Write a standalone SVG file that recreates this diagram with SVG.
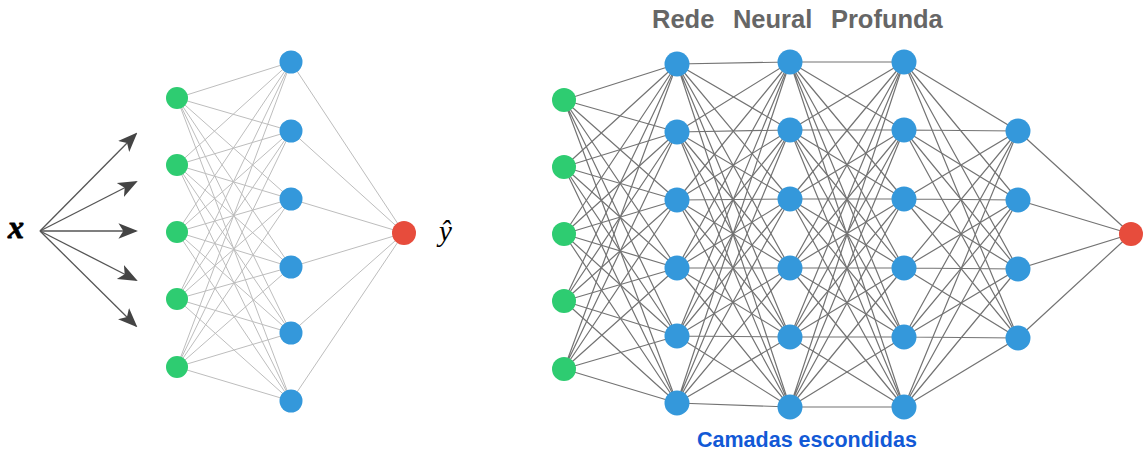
<svg xmlns="http://www.w3.org/2000/svg" width="1147" height="455" viewBox="0 0 1147 455">
  <style>
    .in { fill: #2ecc71; }
    .hid { fill: #3498db; }
    .out { fill: #e74c3c; }
    .edge-s { stroke: #bdbdbd; stroke-width: 1; fill: none; }
    .edge-d { stroke: #737373; stroke-width: 1.2; fill: none; }
    .arrow { stroke: #555; stroke-width: 1.3; fill: none; }
    .title { font-family: "Liberation Sans", Arial, sans-serif; font-weight: bold; font-size: 25.5px; fill: #666; }
    .caption { font-family: "Liberation Sans", Arial, sans-serif; font-weight: bold; font-size: 21.5px; fill: #1259d6; }
    .math { font-family: "Liberation Serif", "DejaVu Serif", serif; font-style: italic; fill: #000; }
  </style>
  <defs>
    <marker id="head" viewBox="0 0 10 10" refX="9" refY="5" markerWidth="15" markerHeight="15" markerUnits="strokeWidth" orient="auto">
      <path d="M0,1 L10,5 L0,9 L2.5,5 z" fill="#444"/>
    </marker>
  </defs>

  <!-- shallow network: connectors -->
  <g id="shallow-edges">
    <path class="arrow" marker-end="url(#head)" d="M40,231 L136,134"/>
    <path class="arrow" marker-end="url(#head)" d="M40,231 L136,182"/>
    <path class="arrow" marker-end="url(#head)" d="M40,231 L136,231"/>
    <path class="arrow" marker-end="url(#head)" d="M40,231 L136,280"/>
    <path class="arrow" marker-end="url(#head)" d="M40,231 L136,326"/>
    <path class="edge-s" d="M177,98 L291,62 M177,98 L291,131 M177,98 L291,199 M177,98 L291,267 M177,98 L291,333 M177,98 L291,401"/>
    <path class="edge-s" d="M177,165 L291,62 M177,165 L291,131 M177,165 L291,199 M177,165 L291,267 M177,165 L291,333 M177,165 L291,401"/>
    <path class="edge-s" d="M177,232 L291,62 M177,232 L291,131 M177,232 L291,199 M177,232 L291,267 M177,232 L291,333 M177,232 L291,401"/>
    <path class="edge-s" d="M177,299 L291,62 M177,299 L291,131 M177,299 L291,199 M177,299 L291,267 M177,299 L291,333 M177,299 L291,401"/>
    <path class="edge-s" d="M177,367 L291,62 M177,367 L291,131 M177,367 L291,199 M177,367 L291,267 M177,367 L291,333 M177,367 L291,401"/>
    <path class="edge-s" d="M291,62 L404,233 M291,131 L404,233 M291,199 L404,233 M291,267 L404,233 M291,333 L404,233 M291,401 L404,233"/>
  </g>

  <!-- shallow network: nodes -->
  <g id="shallow-input">
    <circle class="in" cx="177" cy="98" r="11"/>
    <circle class="in" cx="177" cy="165" r="11"/>
    <circle class="in" cx="177" cy="232" r="11"/>
    <circle class="in" cx="177" cy="299" r="11"/>
    <circle class="in" cx="177" cy="367" r="11"/>
  </g>
  <g id="shallow-hidden">
    <circle class="hid" cx="291" cy="62" r="11.5"/>
    <circle class="hid" cx="291" cy="131" r="11.5"/>
    <circle class="hid" cx="291" cy="199" r="11.5"/>
    <circle class="hid" cx="291" cy="267" r="11.5"/>
    <circle class="hid" cx="291" cy="333" r="11.5"/>
    <circle class="hid" cx="291" cy="401" r="11.5"/>
  </g>
  <g id="shallow-output">
    <circle class="out" cx="404" cy="233" r="12"/>
  </g>
  <g id="label-x">
    <text class="math" x="8" y="238" font-size="32" font-weight="bold" stroke="#000" stroke-width="0.8">x</text>
  </g>
  <g id="label-yhat">
    <text class="math" x="439" y="241" font-size="29">ŷ</text>
  </g>

  <!-- deep network: connectors -->
  <g id="deep-edges">
    <path class="edge-d" d="M564,100 L677,64 M564,100 L677,132 M564,100 L677,200 M564,100 L677,268 M564,100 L677,336 M564,100 L677,403"/>
    <path class="edge-d" d="M564,167 L677,64 M564,167 L677,132 M564,167 L677,200 M564,167 L677,268 M564,167 L677,336 M564,167 L677,403"/>
    <path class="edge-d" d="M564,234 L677,64 M564,234 L677,132 M564,234 L677,200 M564,234 L677,268 M564,234 L677,336 M564,234 L677,403"/>
    <path class="edge-d" d="M564,301 L677,64 M564,301 L677,132 M564,301 L677,200 M564,301 L677,268 M564,301 L677,336 M564,301 L677,403"/>
    <path class="edge-d" d="M564,369 L677,64 M564,369 L677,132 M564,369 L677,200 M564,369 L677,268 M564,369 L677,336 M564,369 L677,403"/>

    <path class="edge-d" d="M677,64 L790,62 M677,64 L790,130 M677,64 L790,199 M677,64 L790,268 M677,64 L790,337 M677,64 L790,407"/>
    <path class="edge-d" d="M677,132 L790,62 M677,132 L790,130 M677,132 L790,199 M677,132 L790,268 M677,132 L790,337 M677,132 L790,407"/>
    <path class="edge-d" d="M677,200 L790,62 M677,200 L790,130 M677,200 L790,199 M677,200 L790,268 M677,200 L790,337 M677,200 L790,407"/>
    <path class="edge-d" d="M677,268 L790,62 M677,268 L790,130 M677,268 L790,199 M677,268 L790,268 M677,268 L790,337 M677,268 L790,407"/>
    <path class="edge-d" d="M677,336 L790,62 M677,336 L790,130 M677,336 L790,199 M677,336 L790,268 M677,336 L790,337 M677,336 L790,407"/>
    <path class="edge-d" d="M677,403 L790,62 M677,403 L790,130 M677,403 L790,199 M677,403 L790,268 M677,403 L790,337 M677,403 L790,407"/>

    <path class="edge-d" d="M790,62 L904,62 M790,62 L904,130 M790,62 L904,199 M790,62 L904,268 M790,62 L904,337 M790,62 L904,407"/>
    <path class="edge-d" d="M790,130 L904,62 M790,130 L904,130 M790,130 L904,199 M790,130 L904,268 M790,130 L904,337 M790,130 L904,407"/>
    <path class="edge-d" d="M790,199 L904,62 M790,199 L904,130 M790,199 L904,199 M790,199 L904,268 M790,199 L904,337 M790,199 L904,407"/>
    <path class="edge-d" d="M790,268 L904,62 M790,268 L904,130 M790,268 L904,199 M790,268 L904,268 M790,268 L904,337 M790,268 L904,407"/>
    <path class="edge-d" d="M790,337 L904,62 M790,337 L904,130 M790,337 L904,199 M790,337 L904,268 M790,337 L904,337 M790,337 L904,407"/>
    <path class="edge-d" d="M790,407 L904,62 M790,407 L904,130 M790,407 L904,199 M790,407 L904,268 M790,407 L904,337 M790,407 L904,407"/>

    <path class="edge-d" d="M904,62 L1018,131 M904,62 L1018,200 M904,62 L1018,269 M904,62 L1018,338"/>
    <path class="edge-d" d="M904,130 L1018,131 M904,130 L1018,200 M904,130 L1018,269 M904,130 L1018,338"/>
    <path class="edge-d" d="M904,199 L1018,131 M904,199 L1018,200 M904,199 L1018,269 M904,199 L1018,338"/>
    <path class="edge-d" d="M904,268 L1018,131 M904,268 L1018,200 M904,268 L1018,269 M904,268 L1018,338"/>
    <path class="edge-d" d="M904,337 L1018,131 M904,337 L1018,200 M904,337 L1018,269 M904,337 L1018,338"/>
    <path class="edge-d" d="M904,407 L1018,131 M904,407 L1018,200 M904,407 L1018,269 M904,407 L1018,338"/>

    <path class="edge-d" d="M1018,131 L1131,234 M1018,200 L1131,234 M1018,269 L1131,234 M1018,338 L1131,234"/>
  </g>

  <!-- deep network: nodes -->
  <g id="deep-input">
    <circle class="in" cx="564" cy="100" r="12"/>
    <circle class="in" cx="564" cy="167" r="12"/>
    <circle class="in" cx="564" cy="234" r="12"/>
    <circle class="in" cx="564" cy="301" r="12"/>
    <circle class="in" cx="564" cy="369" r="12"/>
  </g>
  <g id="deep-hidden-1">
    <circle class="hid" cx="677" cy="64" r="12.5"/>
    <circle class="hid" cx="677" cy="132" r="12.5"/>
    <circle class="hid" cx="677" cy="200" r="12.5"/>
    <circle class="hid" cx="677" cy="268" r="12.5"/>
    <circle class="hid" cx="677" cy="336" r="12.5"/>
    <circle class="hid" cx="677" cy="403" r="12.5"/>
  </g>
  <g id="deep-hidden-2">
    <circle class="hid" cx="790" cy="62" r="12.5"/>
    <circle class="hid" cx="790" cy="130" r="12.5"/>
    <circle class="hid" cx="790" cy="199" r="12.5"/>
    <circle class="hid" cx="790" cy="268" r="12.5"/>
    <circle class="hid" cx="790" cy="337" r="12.5"/>
    <circle class="hid" cx="790" cy="407" r="12.5"/>
  </g>
  <g id="deep-hidden-3">
    <circle class="hid" cx="904" cy="62" r="12.5"/>
    <circle class="hid" cx="904" cy="130" r="12.5"/>
    <circle class="hid" cx="904" cy="199" r="12.5"/>
    <circle class="hid" cx="904" cy="268" r="12.5"/>
    <circle class="hid" cx="904" cy="337" r="12.5"/>
    <circle class="hid" cx="904" cy="407" r="12.5"/>
  </g>
  <g id="deep-hidden-4">
    <circle class="hid" cx="1018" cy="131" r="12.5"/>
    <circle class="hid" cx="1018" cy="200" r="12.5"/>
    <circle class="hid" cx="1018" cy="269" r="12.5"/>
    <circle class="hid" cx="1018" cy="338" r="12.5"/>
  </g>
  <g id="deep-output">
    <circle class="out" cx="1131" cy="234" r="12"/>
  </g>

  <g id="title">
    <text class="title" x="652" y="28" word-spacing="11.5">Rede Neural Profunda</text>
  </g>
  <g id="caption">
    <text class="caption" x="697" y="447">Camadas escondidas</text>
  </g>
</svg>
